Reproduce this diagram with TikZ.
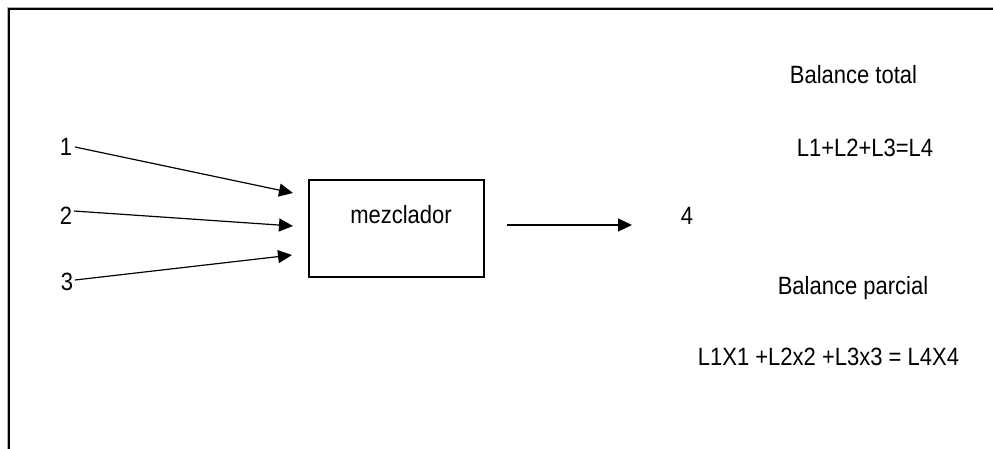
\documentclass[tikz,border=0pt]{standalone}
\usepackage{fontspec}
\setmainfont[FakeStretch=0.88]{Liberation Sans}
\usetikzlibrary{arrows.meta}
\begin{document}
\begin{tikzpicture}[x=1pt,y=-1pt,
  lbl/.style={font=\fontsize{25}{29}\selectfont, inner sep=0pt, anchor=base},
  flow/.style={line width=1.2pt, -{Triangle[length=14pt,width=13pt]}}]
\useasboundingbox (0,0) rectangle (993,448);
% frame
\draw[gray!60, line width=2.6pt] (8,449) -- (8,8) -- (994,8);
\draw[black, line width=1.2pt] (9,449) -- (9,9) -- (994,9);
% box
\node[draw, line width=1.1pt, minimum width=175pt, minimum height=97pt, inner sep=0pt] (mix) at (396.5,228.5) {};
\node[lbl] (mixt) at (401,223) {mezclador};
% labels
\node[lbl] (n1) at (66,155) {1};
\node[lbl] (n2) at (66,224) {2};
\node[lbl] (n3) at (67,290) {3};
\node[lbl] (n4) at (687,224) {4};
% arrow ends
\coordinate (s1) at (75,147);
\coordinate (t1) at (293,193);
\coordinate (s2) at (74,211);
\coordinate (t2) at (293,226);
\coordinate (s3) at (75,280);
\coordinate (t3) at (292,255);
\coordinate (s4) at (507,225);
\coordinate (t4) at (632,225);
\draw[flow] (s1) -- (t1);
\draw[flow] (s2) -- (t2);
\draw[flow] (s3) -- (t3);
\draw[flow] (s4) -- (t4);
% right texts
\node[lbl] (bt) at (853.5,83) {Balance total};
\node[lbl] (eq1) at (865,156) {L1+L2+L3=L4};
\node[lbl] (bp) at (853,294) {Balance parcial};
\node[lbl] (eq2) at (828.5,365) {L1X1 +L2x2 +L3x3 = L4X4};
\end{tikzpicture}
\end{document}
